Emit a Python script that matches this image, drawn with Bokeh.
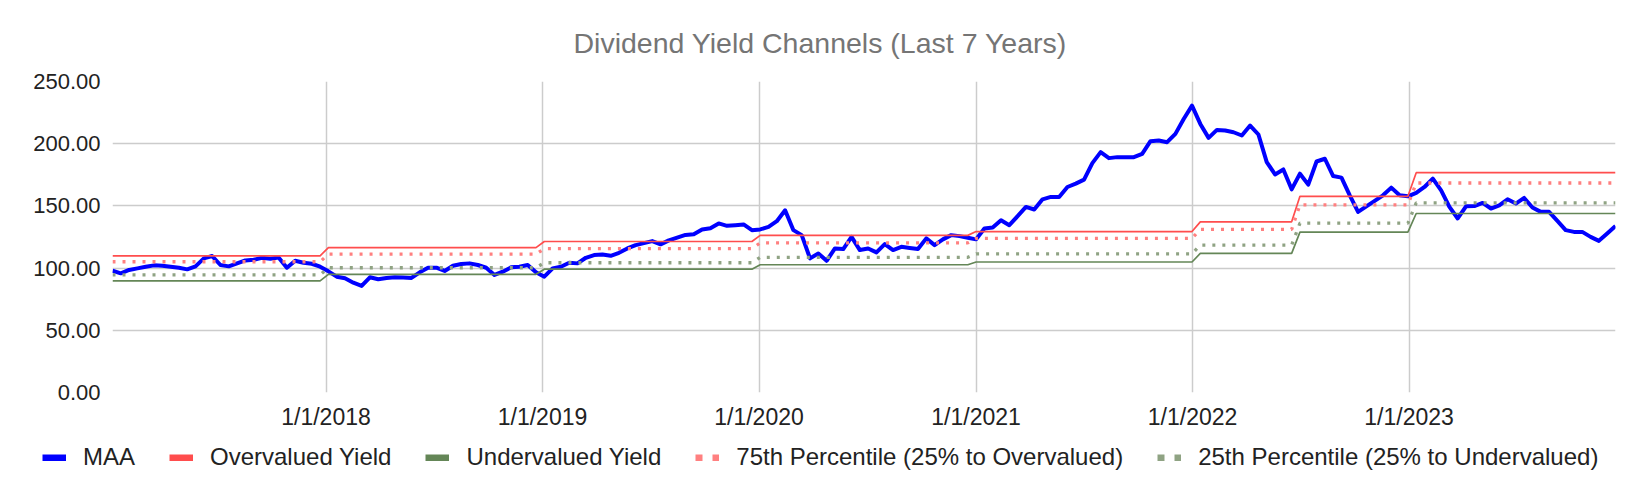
import numpy as np
import pandas as pd
from bokeh.plotting import figure
from bokeh.models import (Range1d, FixedTicker, NumeralTickFormatter, DatetimeTickFormatter,
                          Legend, LegendItem, ColumnDataSource)
from bokeh.embed import file_html
from bokeh.resources import INLINE

# ---------------- data ----------------
first_date = "2017-01-06"      # bi-weekly observations
n_points = 182
dates = pd.date_range(first_date, periods=n_points, freq="14D")

maa = [
    97.9, 95.8, 98.5, 99.8, 101.1, 102.2, 101.9, 101.1, 100.3, 99.0,
    101.4, 107.8, 109.7, 102.5, 101.4, 103.8, 106.2, 106.7, 108.3, 107.5,
    108.6, 100.3, 105.9, 104.3, 103.5, 101.1, 97.4, 93.1, 91.8, 88.3,
    85.7, 92.6, 91.0, 92.1, 92.6, 92.4, 92.1, 96.6, 100.3, 100.3,
    97.7, 101.9, 103.3, 103.8, 102.5, 100.3, 94.5, 97.1, 100.6, 101.1,
    102.5, 96.6, 93.1, 99.8, 101.1, 104.3, 103.8, 108.3, 110.5, 111.0,
    109.9, 112.3, 115.8, 118.5, 120.1, 121.7, 119.1, 122.3, 124.5, 126.7,
    127.3, 131.1, 132.1, 135.9, 134.0, 134.5, 135.1, 130.5, 131.1, 133.1,
    137.7, 146.5, 130.5, 126.5, 107.8, 111.8, 105.9, 115.8, 115.3, 125.1,
    114.5, 115.8, 112.6, 119.3, 114.5, 117.1, 116.2, 115.3, 123.9, 118.5,
    123.1, 126.5, 125.7, 124.4, 123.1, 131.9, 132.7, 138.5, 134.5, 141.7,
    149.2, 147.1, 155.3, 157.2, 157.2, 165.2, 167.9, 171.1, 184.4, 193.2,
    188.4, 189.2, 189.2, 189.2, 191.9, 202.0, 202.6, 201.2, 207.9, 219.9,
    230.6, 215.9, 204.7, 211.1, 210.6, 209.2, 206.6, 214.6, 207.4, 185.2,
    175.3, 179.3, 163.3, 175.9, 167.1, 185.7, 187.9, 174.0, 172.7, 158.5,
    145.2, 149.6, 154.0, 158.5, 164.7, 158.5, 157.7, 160.4, 165.2, 171.9,
    162.5, 149.2, 139.9, 149.7, 149.9, 152.4, 147.9, 150.5, 155.3, 151.9,
    156.4, 148.7, 145.2, 145.2, 138.0, 130.5, 129.1, 129.1, 125.1, 121.9,
    127.9, 133.9,
]

# yield-channel levels, constant from each period start
period_starts = ["2017-01-01", "2018-01-01", "2019-01-01", "2020-01-01",
                 "2021-01-01", "2022-01-01", "2022-07-01", "2023-01-01"]
overvalued = [109.9, 116.5, 121.4, 126.3, 129.4, 137.2, 157.7, 176.7]
pct75 = [105.1, 111.2, 115.6, 120.3, 123.9, 131.1, 150.8, 168.4]
pct25 = [94.5, 100.3, 104.3, 108.7, 111.5, 118.5, 136.1, 152.4]
undervalued = [89.7, 95.0, 99.1, 102.7, 104.9, 111.8, 128.9, 143.9]

x_tick_dates = ["2018-01-01", "2019-01-01", "2020-01-01",
                "2021-01-01", "2022-01-01", "2023-01-01"]
y_ticks = [0, 50, 100, 150, 200, 250]

title_text = "Dividend Yield Channels (Last 7 Years)"
labels = ["MAA", "Overvalued Yield", "Undervalued Yield",
          "75th Percentile (25% to Overvalued)", "25th Percentile (25% to Undervalued)"]

# ---------------- build ----------------
idx = np.searchsorted(pd.to_datetime(period_starts).values, dates.values, side="right") - 1
src = ColumnDataSource(dict(
    date=dates,
    maa=maa,
    over=np.array(overvalued)[idx],
    p75=np.array(pct75)[idx],
    p25=np.array(pct25)[idx],
    under=np.array(undervalued)[idx],
))

FONT = "Liberation Sans"
C_MAA = "#0000ff"
C_OVER = "#ff4d4d"
C_UNDER = "#648657"
C_P75 = "#ff8080"
C_P25 = "#8fa383"

p = figure(width=1624, height=432, x_axis_type="datetime",
           output_backend="svg", toolbar_location=None,
           x_range=Range1d(dates[0], dates[-1]),
           y_range=Range1d(y_ticks[0], y_ticks[-1]),
           min_border_left=112, min_border_right=9,
           min_border_top=81, min_border_bottom=39)
p.outline_line_color = None

p.title.text = title_text
p.title.align = "left"
p.title.offset = 461
p.title.vertical_align = "middle"
p.title.standoff = 44
p.title.text_font = FONT
p.title.text_font_size = "28.5px"
p.title.text_font_style = "normal"
p.title.text_color = "#757575"

xt = FixedTicker(ticks=[pd.Timestamp(d).value / 1e6 for d in x_tick_dates])
p.xaxis.ticker = xt
p.xgrid.ticker = xt
fmt = "%-m/%-d/%Y"
p.xaxis.formatter = DatetimeTickFormatter(years=fmt, months=fmt, days=fmt, hours=fmt,
                                          minutes=fmt, seconds=fmt, milliseconds=fmt,
                                          microseconds=fmt, hourmin=fmt, minsec=fmt)
p.yaxis.ticker = FixedTicker(ticks=y_ticks)
p.ygrid.ticker = FixedTicker(ticks=y_ticks)
p.yaxis.formatter = NumeralTickFormatter(format="0.00")

for ax in (p.xaxis, p.yaxis):
    ax.axis_line_color = None
    ax.major_tick_line_color = None
    ax.minor_tick_line_color = None
    ax.major_label_text_font = FONT
    ax.major_label_text_color = "#222222"
p.xaxis.major_label_text_font_size = "23px"
p.yaxis.major_label_text_font_size = "22px"
p.yaxis.major_label_standoff = 6
p.xaxis.major_label_standoff = 5

for g in (p.xgrid, p.ygrid):
    g.grid_line_color = "#cccccc"
    g.grid_line_width = 1.5

p.line("date", "maa", source=src, line_color=C_MAA, line_width=4, line_join="round")
p.line("date", "over", source=src, line_color=C_OVER, line_width=1.7)
p.line("date", "under", source=src, line_color=C_UNDER, line_width=1.7)
p.line("date", "p75", source=src, line_color=C_P75, line_width=3.3, line_dash="3 7")
p.line("date", "p25", source=src, line_color=C_P25, line_width=3.3, line_dash="3 7")

# ---------------- legend strip (separate root, full-width frame) ----------------
lg = figure(width=1624, height=46, output_backend="svg", toolbar_location=None,
            x_axis_location=None, y_axis_location=None,
            x_range=Range1d(0, 1), y_range=Range1d(0, 1),
            min_border_left=0, min_border_right=0, min_border_top=0, min_border_bottom=0)
lg.outline_line_color = None
lg.xgrid.visible = False
lg.ygrid.visible = False
swatch = dict(x=[np.nan], y=[np.nan])
leg_r = [
    lg.line(line_color=C_MAA, line_width=7, **swatch),
    lg.line(line_color=C_OVER, line_width=7, **swatch),
    lg.line(line_color=C_UNDER, line_width=7, **swatch),
    lg.line(line_color=C_P75, line_width=7, line_dash="7 10", **swatch),
    lg.line(line_color=C_P25, line_width=7, line_dash="7 10", **swatch),
]
legend = Legend(items=[LegendItem(label=l, renderers=[r]) for l, r in zip(labels, leg_r)],
                orientation="horizontal", location=(42, 7),
                border_line_color=None, background_fill_alpha=0,
                label_text_font=FONT, label_text_font_size="24px", label_text_color="#222222",
                glyph_width=24, glyph_height=7, label_height=24, label_standoff=17, spacing=34,
                padding=0, margin=0)
lg.add_layout(legend, "center")

open("out.html", "w").write(file_html([p, lg], INLINE))
